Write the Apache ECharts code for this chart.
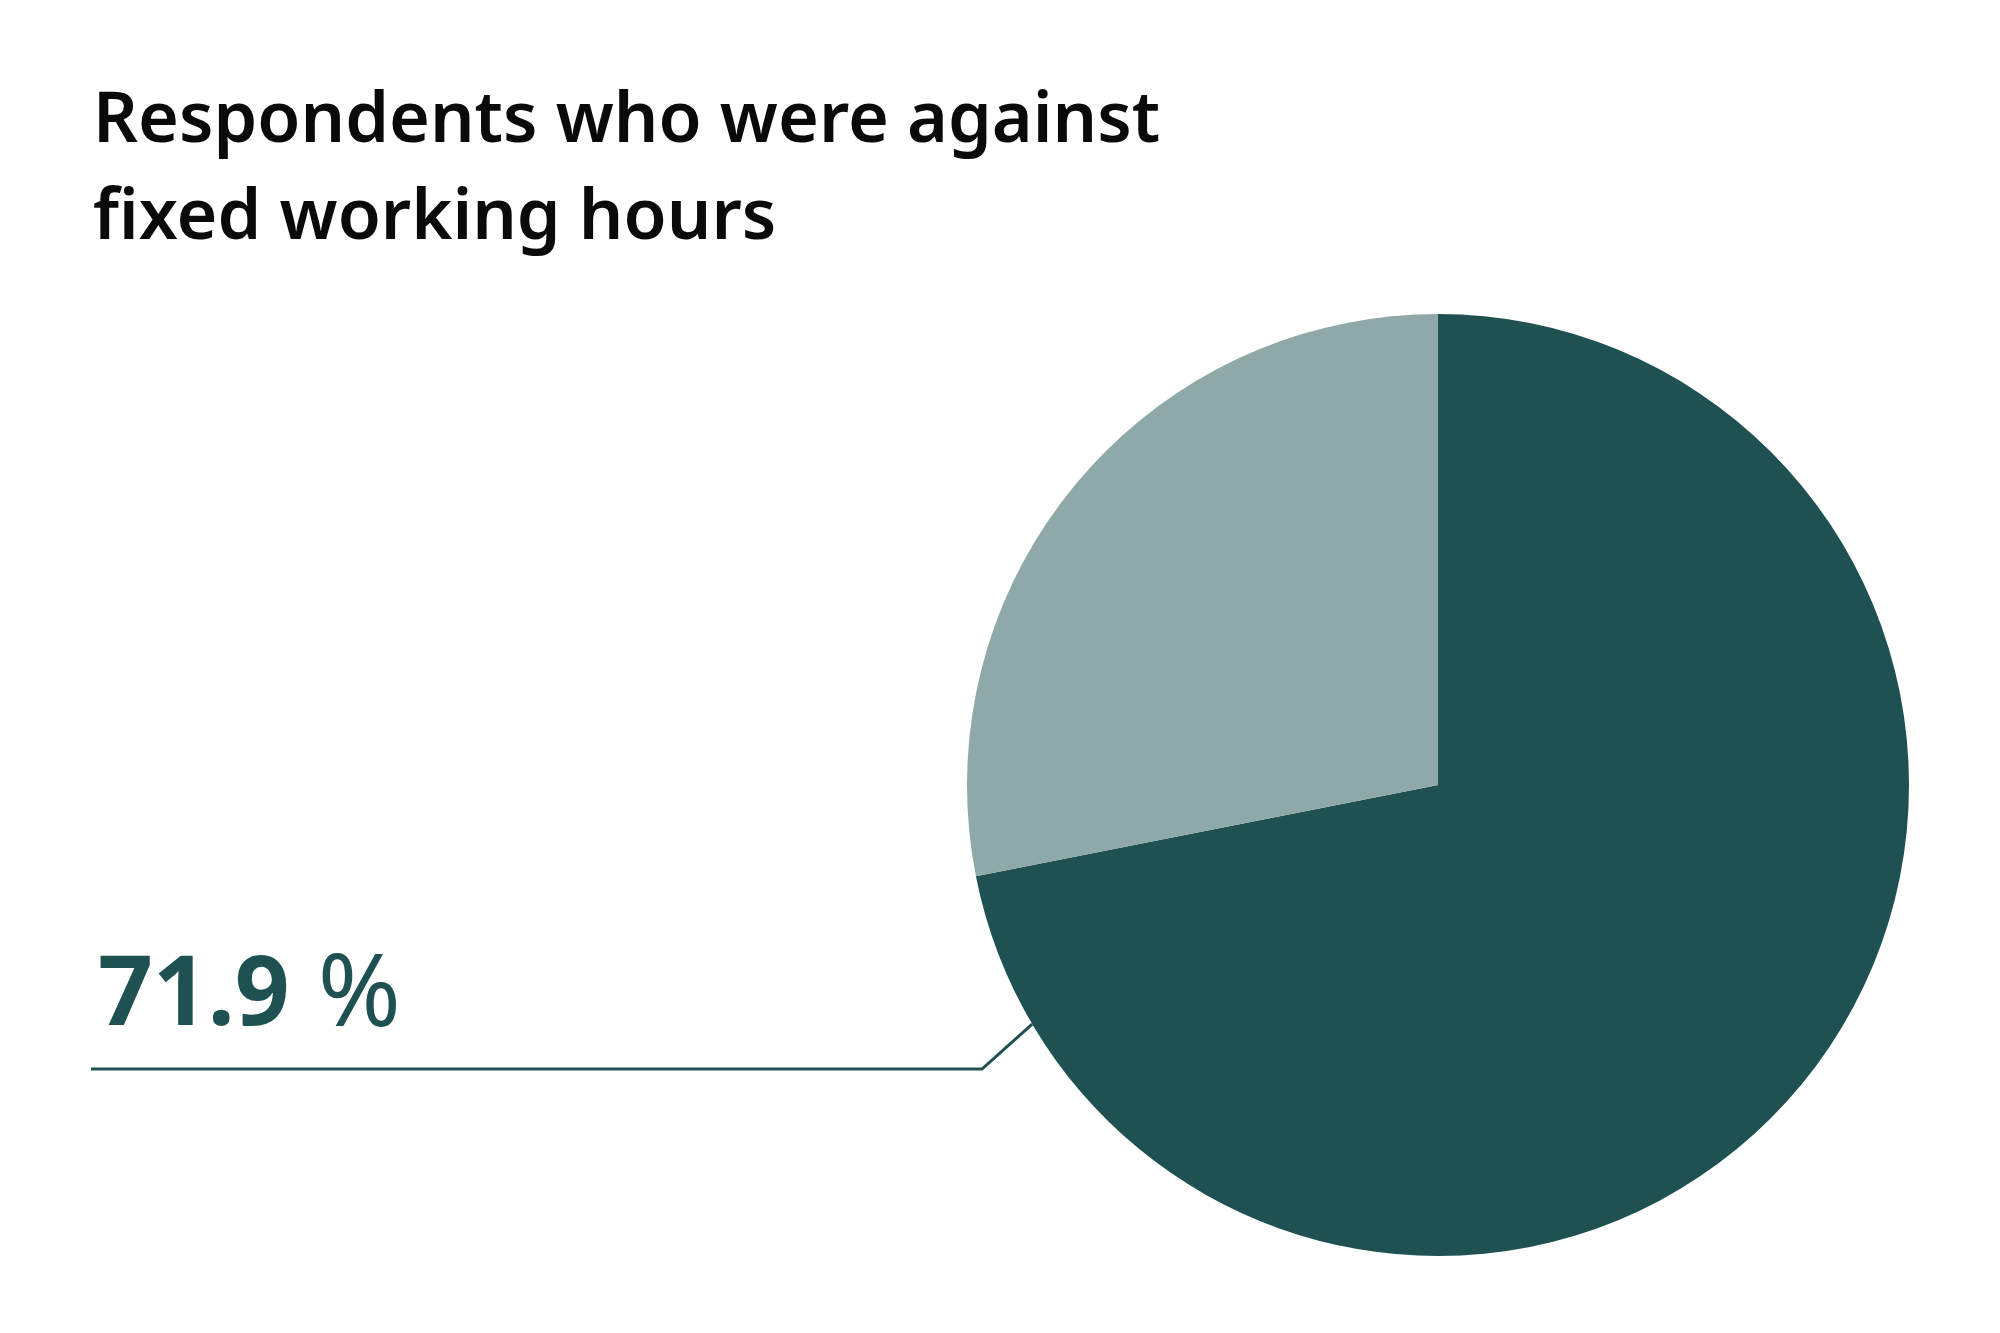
<!DOCTYPE html>
<html>
<head>
<meta charset="utf-8">
<title>Respondents who were against fixed working hours</title>
<script src="https://cdn.jsdelivr.net/npm/echarts@6/dist/echarts.min.js"></script>
<style>
  html, body { margin: 0; padding: 0; background: #fff; }
  #chart { width: 2000px; height: 1333px; }
</style>
</head>
<body>
<div id="chart"></div>
<script>
// data
var categories = ['Against fixed working hours', 'Other'];
var values = [71.9, 28.1];
var colors = ['#1f5152', '#8fa9a8'];

var titleText = 'Respondents who were against\nfixed working hours';

// pie geometry (px)
var pieCenter = [1438, 785];
var pieRadius = 471;
var leaderAngle = 239.5; // degrees clockwise from 12 o'clock, where the leader touches the pie

var chart = echarts.init(document.getElementById('chart'));

var seriesData = [];
for (var i = 0; i < values.length; i++) {
    seriesData.push({
        name: categories[i],
        value: values[i],
        itemStyle: { color: colors[i] },
        label: { show: i === 0 },
        labelLine: { show: i === 0 }
    });
}

var option = {
    animation: false,
    backgroundColor: '#ffffff',
    title: {
        text: titleText,
        left: 88,
        top: 69,
        textStyle: {
            fontFamily: 'Noto Sans',
            fontWeight: 600,
            fontSize: 70,
            lineHeight: 97,
            color: '#0a0a0a'
        }
    },
    series: [
        {
            type: 'pie',
            center: pieCenter,
            radius: pieRadius,
            startAngle: 90,
            clockwise: true,
            silent: true,
            data: seriesData,
            label: {
                position: 'outside',
                overflow: 'none',
                formatter: function (p) {
                    return '{num|' + p.value.toFixed(1) + '}{pct|%}';
                },
                rich: {
                    num: {
                        fontFamily: 'Noto Sans',
                        fontWeight: 'bold',
                        fontSize: 96,
                        color: '#1f5152'
                    },
                    pct: {
                        fontFamily: 'Noto Sans',
                        fontWeight: 'normal',
                        fontSize: 100,
                        color: '#1f5152',
                        padding: [0, 0, 0, 28]
                    }
                }
            },
            labelLine: {
                show: true,
                lineStyle: { color: '#1f5152', width: 3 }
            },
            labelLayout: function (params) {
                if (params.dataIndex !== 0) return {};
                var a = leaderAngle * Math.PI / 180;
                var ex = pieCenter[0] + pieRadius * Math.sin(a);
                var ey = pieCenter[1] - pieRadius * Math.cos(a);
                return {
                    x: 98,
                    y: 1048,
                    width: 600,
                    align: 'left',
                    verticalAlign: 'bottom',
                    labelLinePoints: [[ex, ey], [982, 1069], [91, 1069]]
                };
            }
        }
    ]
};

chart.setOption(option);
</script>
</body>
</html>
